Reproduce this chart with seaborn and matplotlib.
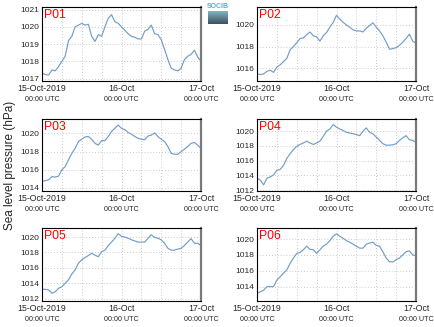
import numpy as np
import pandas as pd
import matplotlib
matplotlib.use("Agg")
import matplotlib.pyplot as plt
import matplotlib.dates as mdates
from matplotlib.transforms import blended_transform_factory
import seaborn as sns

# ---------------- data (hourly, 15-Oct-2019 00:00 to 17-Oct-2019 00:00 UTC) ----------------
start = "2019-10-15 00:00"
stations = ["P01", "P02", "P03", "P04", "P05", "P06"]

p01 = [1017.33, 1017.23, 1017.2, 1017.5, 1017.45, 1017.7, 1018.0, 1018.3, 1019.2, 1019.45,
       1020.0, 1020.1, 1020.2, 1020.1, 1020.15, 1019.45, 1019.15, 1019.55, 1019.45, 1020.0,
       1020.5, 1020.7, 1020.3, 1020.2, 1020.0, 1019.8, 1019.6, 1019.45, 1019.4, 1019.3,
       1019.3, 1019.75, 1019.85, 1020.1, 1019.6, 1019.55, 1019.25, 1018.7, 1018.1, 1017.6,
       1017.5, 1017.45, 1017.6, 1018.1, 1018.3, 1018.4, 1018.65, 1018.25, 1018.0]
p02 = [1015.45, 1015.4, 1015.45, 1015.7, 1015.8, 1015.6, 1016.1, 1016.3, 1016.6, 1016.9,
       1017.7, 1018.0, 1018.35, 1018.75, 1018.8, 1019.1, 1019.35, 1019.0, 1018.9, 1018.5,
       1019.0, 1019.3, 1019.8, 1020.25, 1020.9, 1020.55, 1020.25, 1020.0, 1019.8, 1019.55,
       1019.45, 1019.45, 1019.35, 1019.7, 1019.95, 1020.2, 1019.8, 1019.45, 1019.0, 1018.4,
       1017.75, 1017.8, 1017.9, 1018.1, 1018.4, 1018.75, 1019.15, 1018.5, 1018.3]
p03 = [1014.7, 1014.8, 1014.9, 1015.25, 1015.2, 1015.3, 1016.0, 1016.35, 1017.1, 1017.8,
       1018.35, 1019.1, 1019.35, 1019.6, 1019.65, 1019.35, 1018.9, 1018.7, 1019.2, 1019.2,
       1019.65, 1020.2, 1020.55, 1020.9, 1020.55, 1020.4, 1020.1, 1019.9, 1019.65, 1019.45,
       1019.35, 1019.3, 1019.7, 1019.8, 1020.05, 1019.65, 1019.35, 1019.1, 1018.55, 1017.8,
       1017.7, 1017.7, 1018.0, 1018.25, 1018.55, 1018.9, 1019.0, 1018.7, 1018.35]
p04 = [1013.6, 1013.35, 1012.7, 1013.6, 1013.8, 1014.05, 1014.7, 1014.8, 1015.35, 1016.3,
       1016.95, 1017.5, 1017.95, 1018.2, 1018.4, 1018.65, 1018.4, 1018.2, 1018.4, 1018.65,
       1019.3, 1020.0, 1020.3, 1020.9, 1020.55, 1020.3, 1020.1, 1019.85, 1019.75, 1019.65,
       1019.55, 1019.4, 1020.0, 1020.45, 1019.85, 1019.65, 1019.2, 1018.75, 1018.3, 1018.1,
       1018.1, 1018.15, 1018.3, 1018.75, 1019.1, 1019.4, 1018.85, 1018.75, 1018.5]
p05 = [1013.25, 1013.2, 1013.15, 1012.7, 1012.9, 1013.35, 1013.55, 1014.0, 1014.45, 1015.2,
       1015.75, 1016.6, 1017.05, 1017.35, 1017.6, 1017.9, 1017.65, 1017.45, 1018.1, 1018.3,
       1018.9, 1019.35, 1019.85, 1020.45, 1020.1, 1020.0, 1019.85, 1019.65, 1019.5, 1019.35,
       1019.35, 1019.35, 1019.85, 1020.3, 1019.95, 1019.85, 1019.65, 1019.2, 1018.55, 1018.3,
       1018.3, 1018.45, 1018.55, 1018.9, 1019.35, 1019.8, 1019.2, 1019.2, 1018.9]
p06 = [1013.15, 1013.35, 1013.55, 1014.0, 1014.0, 1014.0, 1014.85, 1015.25, 1015.7, 1016.1,
       1016.95, 1017.6, 1018.2, 1018.3, 1018.65, 1019.1, 1018.7, 1018.65, 1018.2, 1018.65,
       1019.1, 1019.35, 1019.8, 1020.35, 1020.65, 1020.35, 1020.1, 1019.8, 1019.6, 1019.35,
       1019.1, 1018.85, 1018.85, 1019.35, 1019.5, 1019.6, 1019.2, 1019.1, 1018.4, 1017.6,
       1017.15, 1017.1, 1017.4, 1017.6, 1018.0, 1018.4, 1018.5, 1018.0, 1017.9]

yticks = {
    "P01": [1017, 1018, 1019, 1020, 1021],
    "P02": [1016, 1018, 1020],
    "P03": [1014, 1016, 1018, 1020],
    "P04": [1012, 1014, 1016, 1018, 1020],
    "P05": [1012, 1014, 1016, 1018, 1020],
    "P06": [1014, 1016, 1018, 1020],
}
ylims = {
    "P01": (1016.86, 1021.15),
    "P02": (1014.8, 1021.67),
    "P03": (1013.67, 1021.57),
    "P04": (1011.87, 1021.66),
    "P05": (1011.7, 1021.18),
    "P06": (1012.19, 1021.39),
}
date_labels = ["15-Oct-2019", "16-Oct", "17-Oct"]
time_label = "00:00 UTC"
ylabel = "Sea level pressure (hPa)"

times = pd.date_range(start, periods=49, freq="h")
df = pd.DataFrame({"time": times, "P01": p01, "P02": p02, "P03": p03,
                   "P04": p04, "P05": p05, "P06": p06})

# ---------------- style ----------------
sns.set_style("white")
plt.rcParams["font.family"] = ["Liberation Sans", "DejaVu Sans"]

W, H = 435, 327
fig = plt.figure(figsize=(W / 100, H / 100), dpi=100)

lefts = [42, 257]
rows = [(7, 81), (119, 191), (228, 301)]
line_color = "#719dc9"

tick_dates = pd.to_datetime(["2019-10-15", "2019-10-16", "2019-10-17"])

for i, st in enumerate(stations):
    r, c = divmod(i, 2)
    top, bot = rows[r]
    x0 = lefts[c]
    ax = fig.add_axes([x0 / W, 1 - bot / H, (201 - 42) / W, (bot - top) / H])
    sns.lineplot(data=df, x="time", y=st, ax=ax, color=line_color, linewidth=0.85)
    ax.set_xlim(tick_dates[0], tick_dates[-1])
    ax.set_ylim(*ylims[st])
    ax.set_yticks(yticks[st])
    ax.set_yticklabels([str(v) for v in yticks[st]], fontsize=6.0)
    ax.set_xticks(tick_dates)
    ax.set_xticklabels(date_labels, fontsize=6.3)
    ax.xaxis.set_minor_locator(mdates.HourLocator(byhour=[6, 12, 18]))
    ax.tick_params(axis="both", which="both", direction="in", length=2, width=0.6, pad=2)
    ax.tick_params(axis="x", which="major", pad=2.5)
    ax.grid(True, which="both", axis="x", linestyle=(0, (1, 2.5)), color="#b8b8b8", linewidth=0.6)
    ax.grid(True, which="major", axis="y", linestyle=(0, (1, 2.5)), color="#b8b8b8", linewidth=0.6)
    ax.set_xlabel("")
    ax.set_ylabel("")
    for s in ["left", "bottom", "top"]:
        ax.spines[s].set_color("black")
        ax.spines[s].set_linewidth(0.8)
    ax.spines["right"].set_color("#7a7a7a")
    ax.spines["right"].set_linewidth(1.6)
    ax.text(0.015, 0.97, st, transform=ax.transAxes, color="red", fontsize=8.8,
            ha="left", va="top")
    tr = blended_transform_factory(ax.transData, ax.transAxes)
    for d in tick_dates:
        ax.annotate(time_label, xy=(mdates.date2num(d), 0), xycoords=tr,
                    xytext=(0, -10.5), textcoords="offset points",
                    ha="center", va="top", fontsize=5.1, color="#222222")

fig.text(10 / W, 1 - 165 / H, ylabel, rotation=90, ha="center", va="center", fontsize=8.5)

# logo (SOCIB)
fig.text(218 / W, 1 - 6 / H, "SOCIB", ha="center", va="center", fontsize=5,
         color="#4fb8cf", fontweight="bold")
lax = fig.add_axes([208 / W, 1 - 24 / H, 20 / W, 13 / H])
grad = np.linspace(0, 1, 50).reshape(-1, 1)
lax.imshow(grad, aspect="auto", cmap=matplotlib.colors.LinearSegmentedColormap.from_list(
    "g", ["#7fb3c4", "#3d5260"]))
lax.axis("off")

fig.savefig("out.png", dpi=100)
